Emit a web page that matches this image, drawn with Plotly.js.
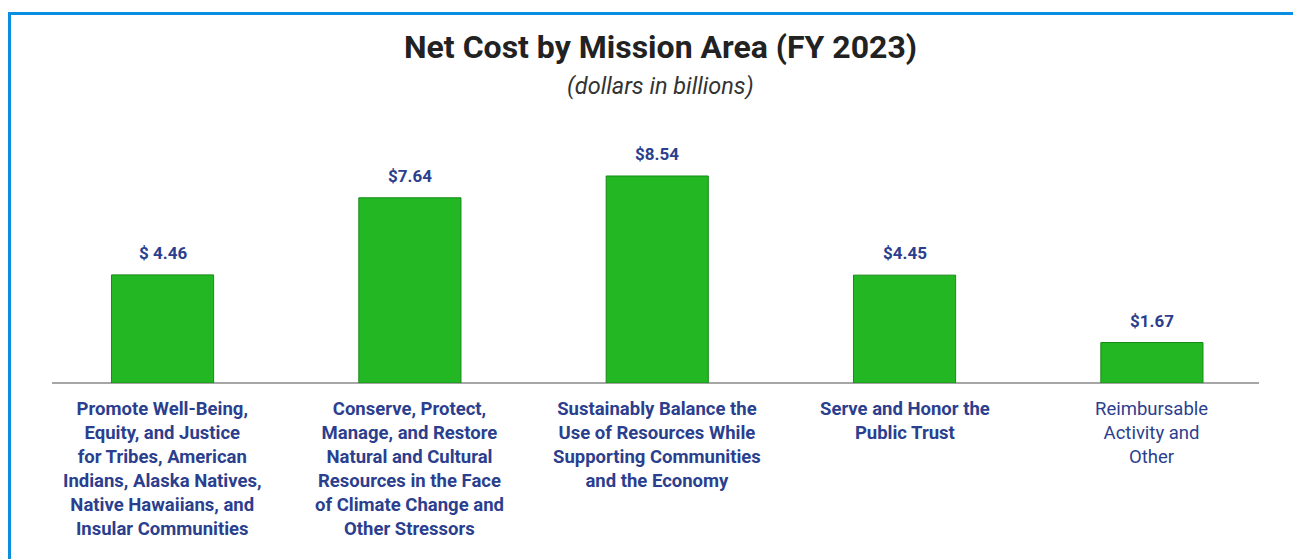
<!DOCTYPE html>
<html><head><meta charset="utf-8">
<script src="https://cdn.plot.ly/plotly-3.0.1.min.js"></script>
<style>
html,body{margin:0;padding:0;background:#fff;}
#wrap{position:relative;width:1293px;height:559px;}
#frame{position:absolute;left:8px;top:12px;right:0;bottom:0;border-top:3px solid #0a8ee0;border-left:3px solid #0a8ee0;pointer-events:none;z-index:2;}
#chart{position:absolute;left:0;top:0;width:1293px;height:559px;}
</style></head>
<body><div id="wrap"><div id="chart"></div><div id="frame"></div></div>
<script>
const categories = [
  "Promote Well-Being,<br>Equity, and Justice<br>for Tribes, American<br>Indians, Alaska Natives,<br>Native Hawaiians, and<br>Insular Communities",
  "Conserve, Protect,<br>Manage, and Restore<br>Natural and Cultural<br>Resources in the Face<br>of Climate Change and<br>Other Stressors",
  "Sustainably Balance the<br>Use of Resources While<br>Supporting Communities<br>and the Economy",
  "Serve and Honor the<br>Public Trust",
  "Reimbursable<br>Activity and<br>Other"
];
const values = [4.46, 7.64, 8.54, 4.45, 1.67];
const valueLabels = ["$ 4.46", "$7.64", "$8.54", "$4.45", "$1.67"];
const boldLabel = [true, true, true, true, false];

const xs = categories.map((c, i) => i);
const FONT = "Roboto, 'Liberation Sans', sans-serif";
const BLUE = "#2b3f8e";

const trace = {
  type: "bar",
  x: xs,
  y: values,
  width: 0.413,
  marker: {color: "#23b823", line: {color: "#178a17", width: 1}},
  hoverinfo: "skip"
};

const annotations = [
  {text: "<b>Net Cost by Mission Area (FY 2023)</b>", xref: "paper", yref: "paper", x: 0.504, y: 1.2776, xanchor: "center", yanchor: "middle", showarrow: false, font: {family: FONT, size: 32, color: "#222222"}},
  {text: "<i>(dollars in billions)</i>", xref: "paper", yref: "paper", x: 0.504, y: 1.129, xanchor: "center", yanchor: "middle", showarrow: false, font: {family: FONT, size: 23.5, color: "#333333"}}
];
values.forEach((v, i) => {
  annotations.push({
    text: "<b>" + valueLabels[i] + "</b>",
    x: xs[i], y: v, xref: "x", yref: "y", xanchor: "center", yanchor: "bottom",
    yshift: 10, showarrow: false,
    font: {family: FONT, size: 17, color: BLUE}
  });
});
categories.forEach((c, i) => {
  annotations.push({
    text: boldLabel[i] ? "<b>" + c + "</b>" : c,
    x: xs[i], y: 0, xref: "x", yref: "y", xanchor: "center", yanchor: "top",
    yshift: -13, showarrow: false, align: "center",
    font: {family: FONT, size: 18.5, color: BLUE}
  });
});

const layout = {
  width: 1293, height: 559,
  margin: {l: 52, r: 34, t: 120, b: 176},
  paper_bgcolor: "#ffffff", plot_bgcolor: "#ffffff",
  showlegend: false,
  xaxis: {range: [-0.447, 4.433], showticklabels: false, showgrid: false, zeroline: false, ticks: "", showline: false, fixedrange: true},
  yaxis: {range: [0, 10.85], showticklabels: false, showgrid: false, zeroline: true, zerolinecolor: "#a6a6a6", zerolinewidth: 2, ticks: "", showline: false, fixedrange: true},
  annotations: annotations
};

Plotly.newPlot("chart", [trace], layout, {displayModeBar: false, staticPlot: true});
</script></body></html>
